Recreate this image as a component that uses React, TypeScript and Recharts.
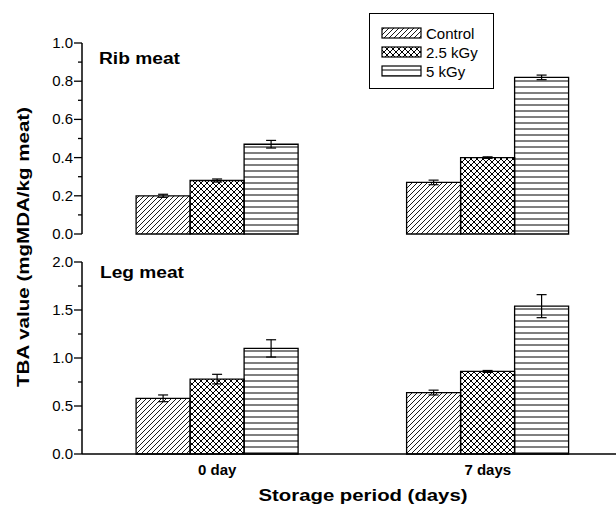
import React from "react";
import { BarChart, Bar, XAxis, YAxis, ErrorBar, Legend } from "recharts";

const periods = ["0 day", "7 days"];
const seriesNames = ["Control", "2.5 kGy", "5 kGy"];

// rib meat
const ribControl = [0.2, 0.27];
const ribControlErr = [0.008, 0.012];
const rib25 = [0.28, 0.4];
const rib25Err = [0.008, 0.004];
const rib5 = [0.47, 0.82];
const rib5Err = [0.02, 0.012];

// leg meat
const legControl = [0.58, 0.64];
const legControlErr = [0.035, 0.025];
const leg25 = [0.78, 0.86];
const leg25Err = [0.05, 0.01];
const leg5 = [1.1, 1.54];
const leg5Err = [0.09, 0.12];

const ribTicks = [0, 0.1, 0.2, 0.3, 0.4, 0.5, 0.6, 0.7, 0.8, 0.9, 1.0];
const legTicks = [0, 0.25, 0.5, 0.75, 1.0, 1.25, 1.5, 1.75, 2.0];

const ribData = periods.map((p, i) => ({
  period: p,
  control: ribControl[i],
  controlErr: ribControlErr[i],
  k25: rib25[i],
  k25Err: rib25Err[i],
  k5: rib5[i],
  k5Err: rib5Err[i],
}));

const legData = periods.map((p, i) => ({
  period: p,
  control: legControl[i],
  controlErr: legControlErr[i],
  k25: leg25[i],
  k25Err: leg25Err[i],
  k5: leg5[i],
  k5Err: leg5Err[i],
}));

const FONT = "'Liberation Sans', Arial, Helvetica, sans-serif";
const AXIS_X = 82;
const fills = ["url(#pDiag)", "url(#pCross)", "url(#pHoriz)"];

const YTick = (props: any) => {
  const { y, payload, index } = props;
  const major = index % 2 === 0;
  return (
    <g>
      <line x1={AXIS_X - (major ? 8 : 4)} x2={AXIS_X} y1={y} y2={y} stroke="#000" strokeWidth={1.3} />
      {major && (
        <text x={AXIS_X - 9} y={y} dy={5} textAnchor="end" fontSize={15} fontFamily={FONT} fill="#000">
          {Number(payload.value).toFixed(1)}
        </text>
      )}
    </g>
  );
};

const XTick = (props: any) => {
  const { x, payload } = props;
  return (
    <text x={x} y={234.5} textAnchor="middle" fontSize={15} fontWeight="bold" fontFamily={FONT} fill="#000">
      {payload.value}
    </text>
  );
};

const LegendBox = () => (
  <svg width={125} height={76} style={{ display: "block" }}>
    <rect x={0.5} y={0.5} width={124} height={75} fill="#fff" stroke="#000" strokeWidth={1} />
    {seriesNames.map((name, i) => (
      <g key={name}>
        <rect x={13} y={15 + i * 19} width={39} height={10} fill={fills[i]} stroke="#000" strokeWidth={1.2} />
        <text x={57} y={25.5 + i * 19} fontSize={15} fontFamily={FONT} fill="#000">
          {name}
        </text>
      </g>
    ))}
  </svg>
);

function renderBars() {
  const keys = [
    ["control", "controlErr"],
    ["k25", "k25Err"],
    ["k5", "k5Err"],
  ];
  return keys.map(([k, e], i) => (
    <Bar key={k} dataKey={k} name={seriesNames[i]} fill={fills[i]} stroke="#000" strokeWidth={1.3} isAnimationActive={false}>
      <ErrorBar dataKey={e} width={5} stroke="#000" strokeWidth={1.2} />
    </Bar>
  ));
}

export default function App() {
  return (
    <div
      style={{
        position: "fixed",
        left: 0,
        top: 0,
        width: 616,
        height: 506,
        overflow: "hidden",
        background: "#fff",
      }}
    >
      <svg width={0} height={0} style={{ position: "absolute" }}>
        <defs>
          <pattern id="pDiag" patternUnits="userSpaceOnUse" width={5} height={5}>
            <path d="M-1,1 l2,-2 M0,5 l5,-5 M4,6 l2,-2" stroke="#000" strokeWidth={0.9} />
          </pattern>
          <pattern id="pCross" patternUnits="userSpaceOnUse" width={6} height={6}>
            <path d="M-1,1 l2,-2 M0,6 l6,-6 M5,7 l2,-2 M-1,5 l2,2 M0,0 l6,6 M5,-1 l2,2" stroke="#000" strokeWidth={1} />
          </pattern>
          <pattern id="pHoriz" patternUnits="userSpaceOnUse" width={6} height={6}>
            <line x1={0} x2={6} y1={3} y2={3} stroke="#000" strokeWidth={1} />
          </pattern>
        </defs>
      </svg>

      <div style={{ position: "absolute", left: 0, top: 0 }}>
        <BarChart
          width={630}
          height={248}
          data={ribData}
          margin={{ top: 43, right: 7, left: 0, bottom: 14 }}
          barCategoryGap="20%"
          barGap={0}
        >
          <XAxis dataKey="period" height={0} tick={false} tickLine={false} axisLine={{ stroke: "#000", strokeWidth: 1.5 }} />
          <YAxis
            width={82}
            domain={[0, 1]}
            ticks={ribTicks}
            interval={0}
            tickLine={false}
            tick={<YTick />}
            axisLine={{ stroke: "#000", strokeWidth: 1.5 }}
          />
          {renderBars()}
          <Legend
            layout="vertical"
            align="center"
            verticalAlign="middle"
            wrapperStyle={{ left: 369, top: 13, width: 125, height: 76 }}
            content={() => <LegendBox />}
          />
        </BarChart>
      </div>

      <div style={{ position: "absolute", left: 0, top: 240 }}>
        <BarChart
          width={630}
          height={266}
          data={legData}
          margin={{ top: 22, right: 7, left: 0, bottom: 22 }}
          barCategoryGap="20%"
          barGap={0}
        >
          <XAxis
            dataKey="period"
            height={30}
            tickLine={false}
            tick={<XTick />}
            interval={0}
            axisLine={{ stroke: "#000", strokeWidth: 1.5 }}
          />
          <YAxis
            width={82}
            domain={[0, 2]}
            ticks={legTicks}
            interval={0}
            tickLine={false}
            tick={<YTick />}
            axisLine={{ stroke: "#000", strokeWidth: 1.5 }}
          />
          {renderBars()}
        </BarChart>
      </div>

      <svg width={616} height={506} style={{ position: "absolute", left: 0, top: 0, pointerEvents: "none" }}>
        <text x={99} y={64} fontSize={16} fontWeight="bold" fontFamily={FONT} textLength={81} lengthAdjust="spacingAndGlyphs">
          Rib meat
        </text>
        <text x={100} y={277.5} fontSize={16} fontWeight="bold" fontFamily={FONT} textLength={84} lengthAdjust="spacingAndGlyphs">
          Leg meat
        </text>
        <text
          x={0}
          y={0}
          transform="translate(29,247) rotate(-90)"
          textAnchor="middle"
          fontSize={16}
          fontWeight="bold"
          fontFamily={FONT}
          textLength={280}
          lengthAdjust="spacingAndGlyphs"
        >
          TBA value (mgMDA/kg meat)
        </text>
        <text
          x={363}
          y={501}
          textAnchor="middle"
          fontSize={16}
          fontWeight="bold"
          fontFamily={FONT}
          textLength={209}
          lengthAdjust="spacingAndGlyphs"
        >
          Storage period (days)
        </text>
      </svg>
    </div>
  );
}
